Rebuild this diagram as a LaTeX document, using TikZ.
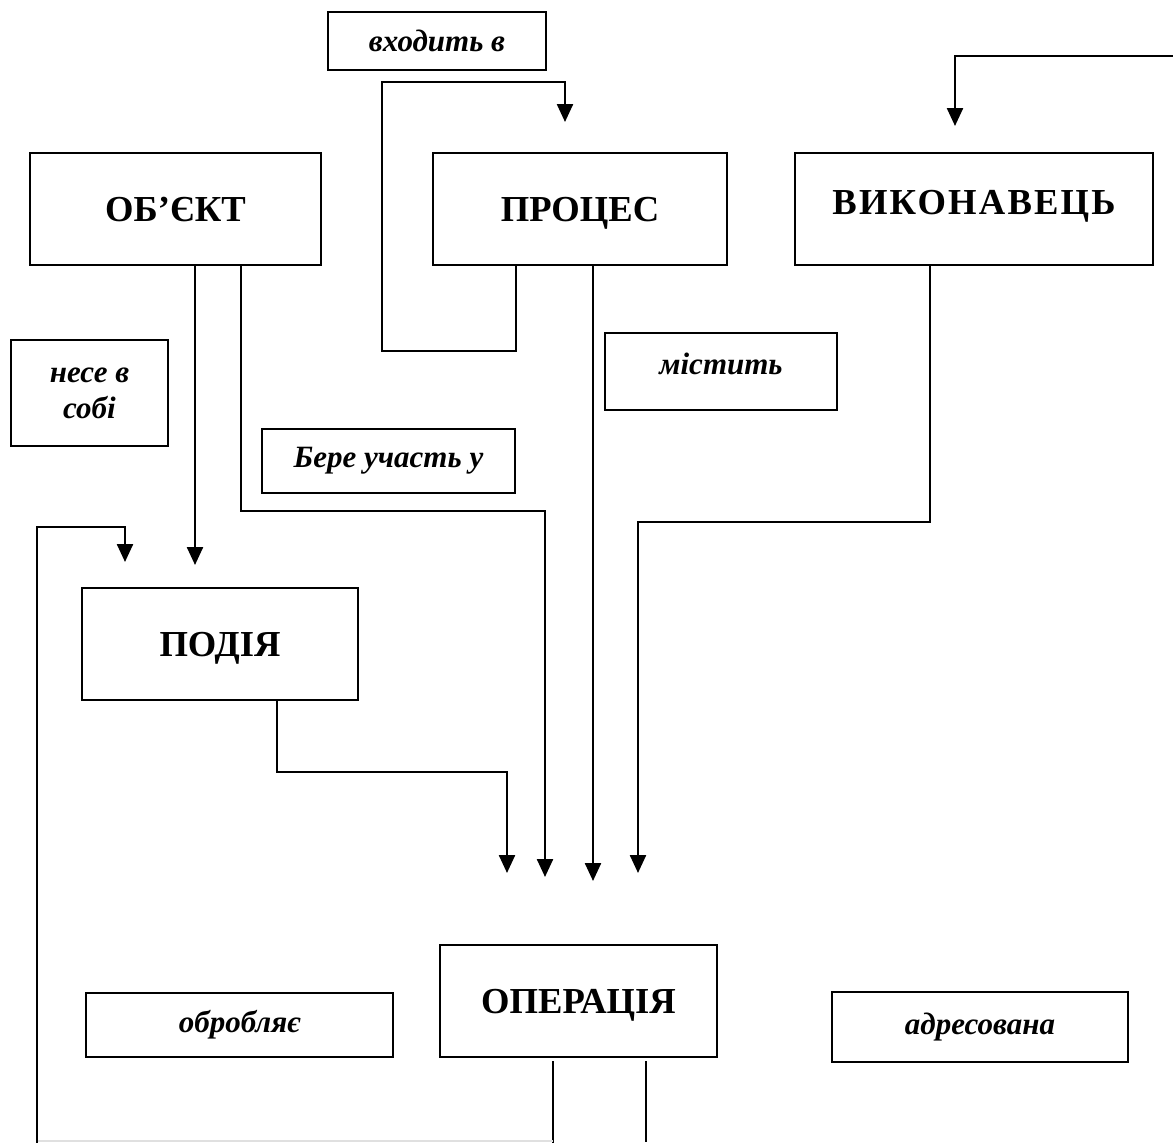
\documentclass[tikz,border=0pt]{standalone}
\usepackage{fontspec}
\setmainfont{Liberation Serif}
\usetikzlibrary{arrows.meta}

\begin{document}
\begin{tikzpicture}[x=0.5pt, y=-0.5pt, line width=1.2pt,
    concept/.style={draw, line width=1.1pt, inner sep=0pt, text height=12pt, text depth=0pt, font=\fontsize{18.3}{21}\selectfont\bfseries},
    relbox/.style={draw, line width=1.1pt, inner sep=0pt, align=center, font=\fontsize{15.5}{18}\selectfont\bfseries\itshape},
    link/.style={-{Triangle[width=8pt,length=9pt]}}]
    \useasboundingbox (0,0) rectangle (1173,1142);
    % concepts
    \node (obiekt) at (175.5,209) [concept, minimum width=145.5pt, minimum height=56pt] {ОБ’ЄКТ};
    \node (protses) at (580,209) [concept, minimum width=147pt, minimum height=56pt] {ПРОЦЕС};
    \node (vykonavets) at (974,209) [concept, minimum width=179pt, minimum height=56pt, text depth=7pt] {\addfontfeature{LetterSpace=6}ВИКОНАВЕЦЬ};
    \node (podiia) at (220,644) [concept, minimum width=138pt, minimum height=56pt] {ПОДІЯ};
    \node (operatsiia) at (578.5,1001) [concept, minimum width=138.5pt, minimum height=56pt] {ОПЕРАЦІЯ};
    % relations
    \node (vkhodyt) at (437,41) [relbox, minimum width=109pt, minimum height=29pt] {входить в};
    \node (nese) at (89.5,393) [relbox, minimum width=78.5pt, minimum height=53pt] {несе в\\собі};
    \node (mistyt) at (721,371.5) [relbox, minimum width=116pt, minimum height=38.5pt, text depth=8pt] {містить};
    \node (bere) at (388.5,461) [relbox, minimum width=126.5pt, minimum height=32pt] {Бере участь у};
    \node (obrobliaie) at (239.5,1025) [relbox, minimum width=153.5pt, minimum height=32pt] {обробляє};
    \node (adresovana) at (980,1027) [relbox, minimum width=148pt, minimum height=35pt] {адресована};
    % bends and free ends
    \coordinate (pr1) at (516,351);
    \coordinate (pr2) at (382,351);
    \coordinate (pr3) at (382,82);
    \coordinate (prin) at (565,122);
    \coordinate (pdin1) at (195,565);
    \coordinate (ob1) at (241,511);
    \coordinate (opin1) at (545,877);
    \coordinate (opin2) at (593,881);
    \coordinate (vy1) at (930,522);
    \coordinate (opin3) at (638,873);
    \coordinate (pd1) at (277,772);
    \coordinate (opin0) at (507,873);
    \coordinate (op1) at (553,1141);
    \coordinate (op2) at (37,1141);
    \coordinate (op3) at (37,527);
    \coordinate (pdin0) at (125,562);
    \coordinate (op4) at (646,1142);
    \coordinate (vy2) at (1173,56);
    \coordinate (vyin) at (955,126);
    % connectors
    \draw[link] (protses.south -| pr1) -- (pr1) -- (pr2) -- (pr3) -| (prin);
    \draw[link] (obiekt.south -| pdin1) -- (pdin1);
    \draw[link] (obiekt.south -| ob1) -- (ob1) -| (opin1);
    \draw[link] (protses.south -| opin2) -- (opin2);
    \draw[link] (vykonavets.south -| vy1) -- (vy1) -| (opin3);
    \draw[link] (podiia.south -| pd1) -- (pd1) -| (opin0);
    \draw ([yshift=-1.5pt]operatsiia.south -| op1) -- ([yshift=-1pt]op1);
    \draw[black!12] (op1) -- (op2);
    \draw[link] ([yshift=-1pt]op2) -- (op3) -| (pdin0);
    \draw ([yshift=-1.5pt]operatsiia.south -| op4) -- (op4);
    \draw[link] (vy2) -| (vyin);
\end{tikzpicture}
\end{document}
